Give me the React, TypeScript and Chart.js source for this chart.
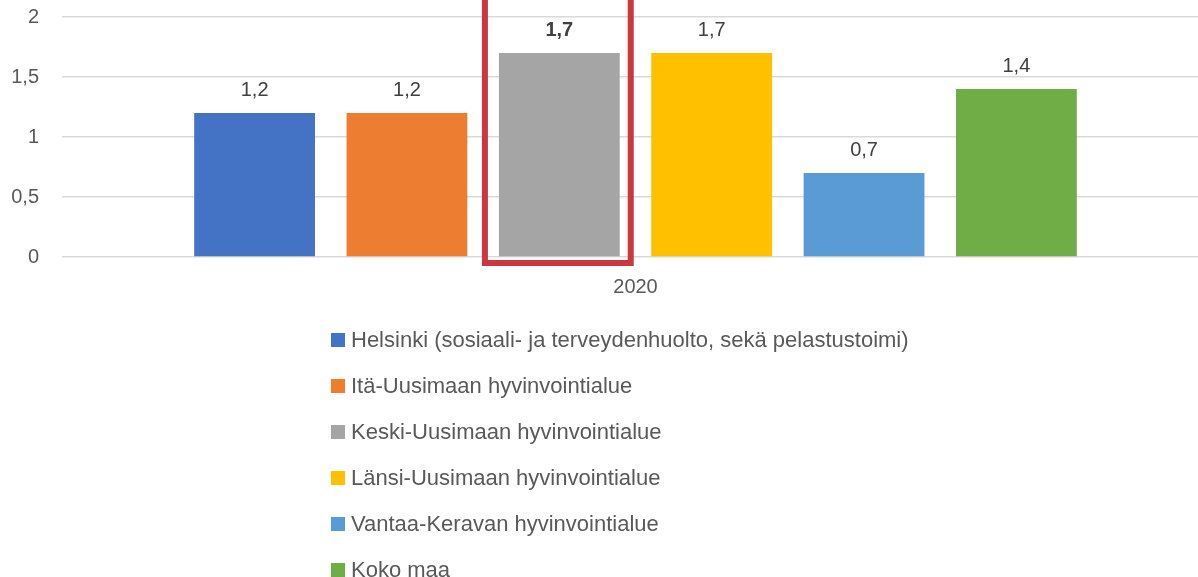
import React, { useEffect, useRef } from "react";
import { Chart, registerables } from "chart.js";

Chart.register(...registerables);

const categories = ["2020"];
const seriesNames = [
  "Helsinki (sosiaali- ja terveydenhuolto, sekä pelastustoimi)",
  "Itä-Uusimaan hyvinvointialue",
  "Keski-Uusimaan hyvinvointialue",
  "Länsi-Uusimaan hyvinvointialue",
  "Vantaa-Keravan hyvinvointialue",
  "Koko maa",
];
const seriesValues = [[1.2], [1.2], [1.7], [1.7], [0.7], [1.4]];
const seriesColors = ["#4472C4", "#ED7D31", "#A5A5A5", "#FFC000", "#5B9BD5", "#70AD47"];
const highlightIndex = 2;
const yTicks = [0, 0.5, 1, 1.5, 2];

const FONT = "'Liberation Sans', Arial, sans-serif";
const fmt = (v: number) => String(v).replace(".", ",");

const valueLabels = {
  id: "valueLabels",
  afterDatasetsDraw(chart: any) {
    const ctx = chart.ctx;
    ctx.save();
    chart.data.datasets.forEach((ds: any, i: number) => {
      const meta = chart.getDatasetMeta(i);
      meta.data.forEach((el: any, j: number) => {
        const v = ds.data[j];
        ctx.font = (i === highlightIndex ? "bold " : "") + "20px " + FONT;
        ctx.fillStyle = "#404040";
        ctx.textAlign = "center";
        ctx.textBaseline = "alphabetic";
        ctx.fillText(fmt(v), el.x, el.y - 17);
      });
    });
    ctx.restore();
  },
};

const highlightBox = {
  id: "highlightBox",
  afterDatasetsDraw(chart: any) {
    const el = chart.getDatasetMeta(highlightIndex).data[0];
    if (!el) return;
    const ctx = chart.ctx;
    const left = el.x - el.width / 2 - 14;
    const right = el.x + el.width / 2 + 11;
    const bottom = chart.chartArea.bottom + 6;
    ctx.save();
    ctx.strokeStyle = "#C9383E";
    ctx.lineWidth = 6;
    ctx.beginPath();
    ctx.moveTo(left, -10);
    ctx.lineTo(left, bottom);
    ctx.lineTo(right, bottom);
    ctx.lineTo(right, -10);
    ctx.stroke();
    ctx.restore();
  },
};

const verticalLegend = {
  id: "verticalLegend",
  afterDraw(chart: any) {
    const ctx = chart.ctx;
    const startY = chart.chartArea.bottom + 83;
    const rowH = 46;
    const boxX = 331;
    ctx.save();
    ctx.font = "22px " + FONT;
    ctx.textAlign = "left";
    ctx.textBaseline = "middle";
    chart.data.datasets.forEach((ds: any, i: number) => {
      const cy = startY + i * rowH;
      ctx.fillStyle = ds.backgroundColor;
      ctx.fillRect(boxX, cy - 7, 14, 14);
      ctx.fillStyle = "#595959";
      ctx.fillText(ds.label, boxX + 20, cy + 1);
    });
    ctx.restore();
  },
};

export default function App() {
  const ref = useRef<HTMLCanvasElement>(null);
  useEffect(() => {
    if (!ref.current) return;
    const chart = new Chart(ref.current, {
      type: "bar",
      data: {
        labels: categories,
        datasets: seriesNames.map((name, i) => ({
          label: name,
          data: seriesValues[i],
          backgroundColor: seriesColors[i],
          borderWidth: 0,
          barPercentage: 0.793,
          categoryPercentage: 0.797,
        })),
      },
      options: {
        animation: false,
        responsive: false,
        maintainAspectRatio: false,
        layout: { padding: { top: 17, bottom: 270, left: 0, right: 0 } },
        plugins: {
          legend: { display: false },
          tooltip: { enabled: false },
        },
        scales: {
          x: {
            grid: { display: false, drawTicks: false },
            border: { display: false },
            ticks: {
              color: "#595959",
              font: { family: FONT, size: 20 },
              padding: 18,
            },
            afterFit: (s: any) => {
              s.height = 50;
              s.paddingLeft = 0;
              s.paddingRight = 0;
            },
          },
          y: {
            min: 0,
            max: 2,
            afterBuildTicks: (s: any) => {
              s.ticks = yTicks.map((v) => ({ value: v }));
            },
            grid: { color: "#D9D9D9", lineWidth: 1.5, drawTicks: false },
            border: { display: false },
            ticks: {
              color: "#595959",
              font: { family: FONT, size: 20 },
              padding: 23,
              callback: (v: any) => fmt(Number(v)),
            },
            afterFit: (s: any) => {
              s.width = 62;
              s.paddingTop = 0;
              s.paddingBottom = 0;
            },
          },
        },
      },
      plugins: [valueLabels, highlightBox, verticalLegend],
    });
    return () => chart.destroy();
  }, []);
  return (
    <div
      style={{
        position: "fixed",
        left: 0,
        top: 0,
        width: 1198,
        height: 577,
        overflow: "hidden",
        background: "#fff",
      }}
    >
      <canvas ref={ref} width={1209} height={577} style={{ width: 1209, height: 577, display: "block" }} />
    </div>
  );
}
